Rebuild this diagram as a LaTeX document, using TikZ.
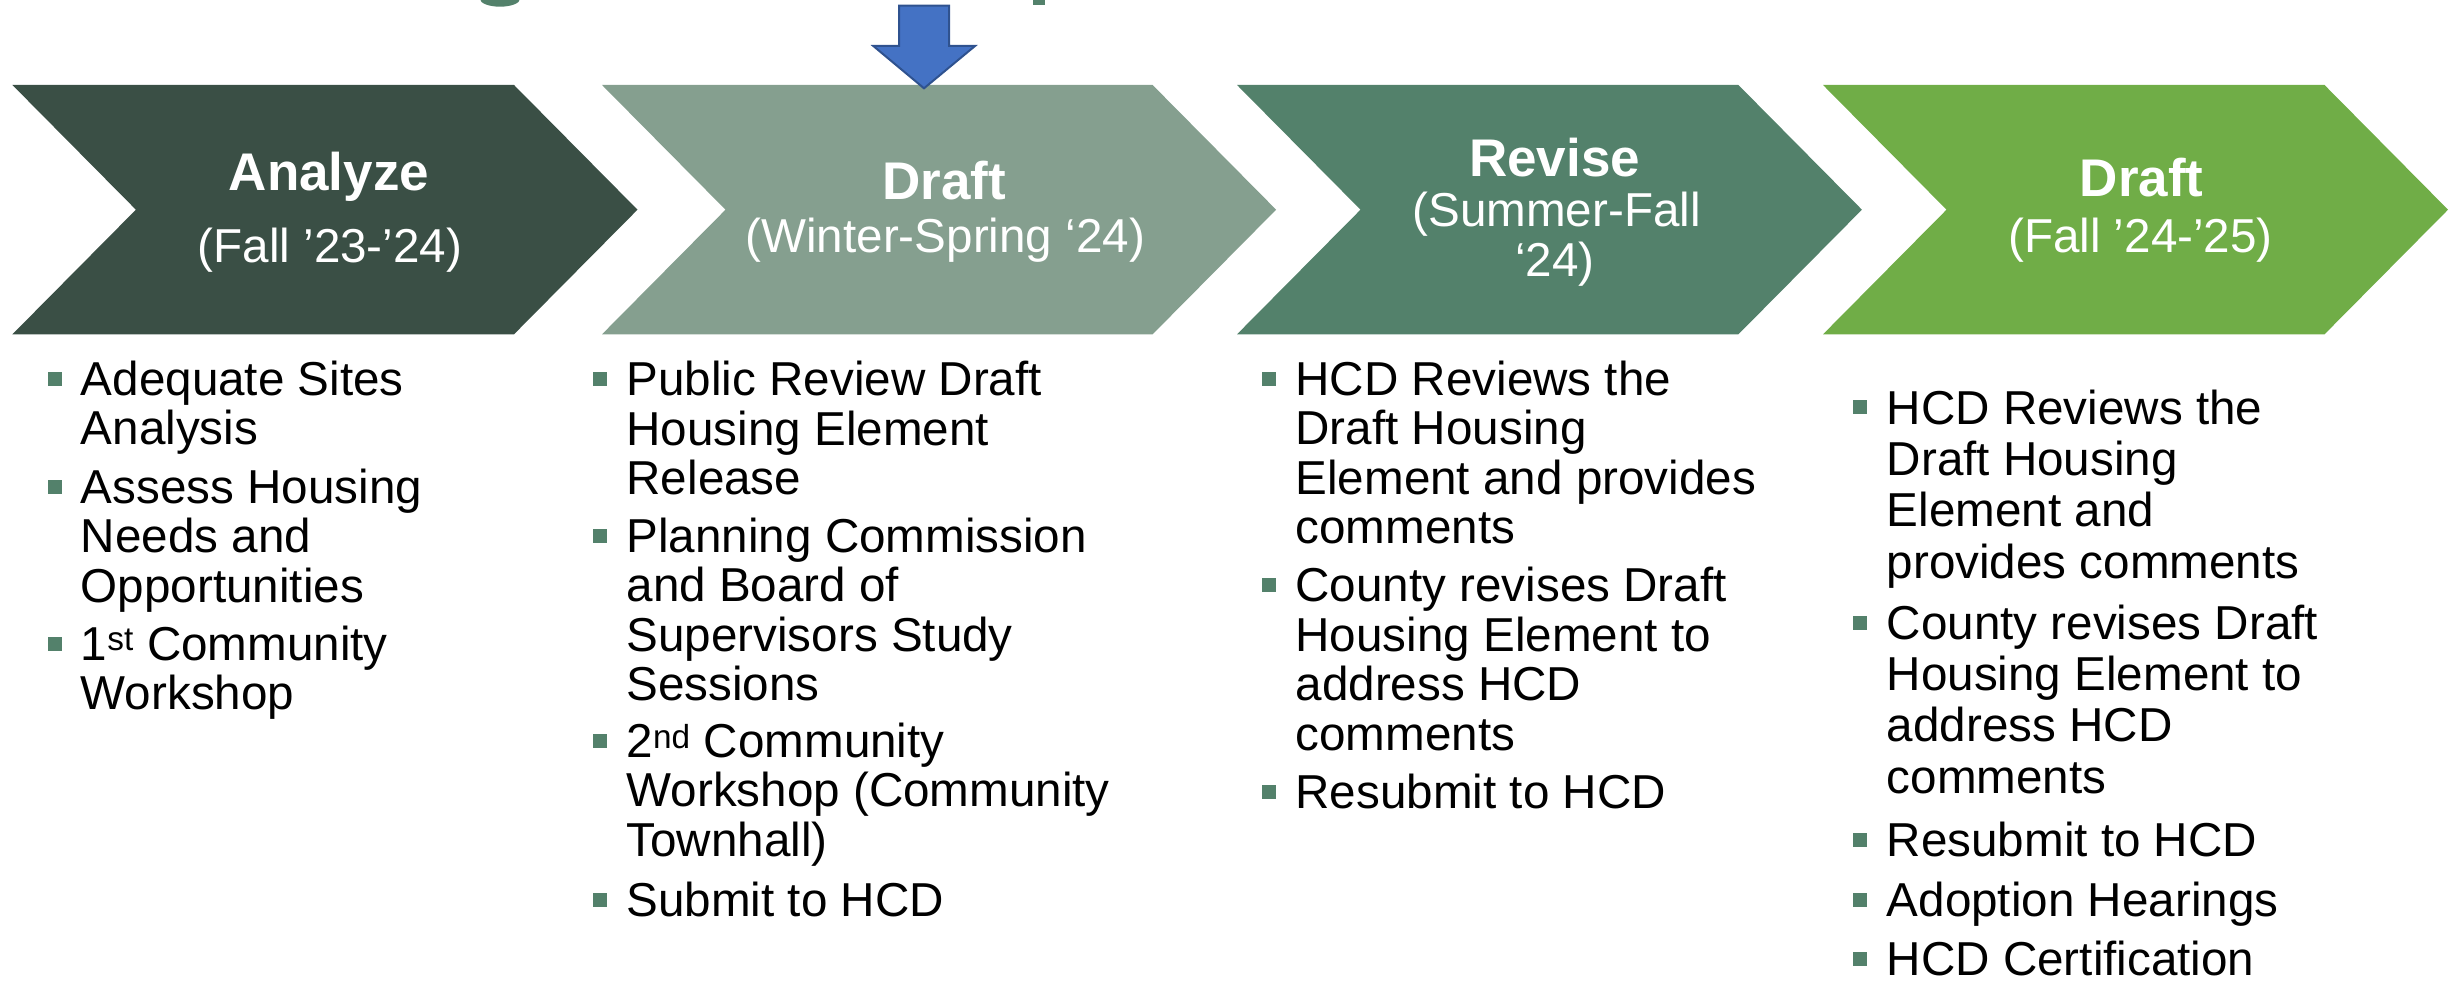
\documentclass[tikz,border=0pt]{standalone}
\usepackage{fontspec}
\setmainfont{Liberation Sans}

\definecolor{phaseA}{RGB}{58,79,69}
\definecolor{phaseB}{RGB}{133,159,143}
\definecolor{phaseC}{RGB}{83,129,107}
\definecolor{phaseD}{RGB}{112,173,71}
\definecolor{markerblue}{RGB}{68,114,196}
\definecolor{markeredge}{RGB}{47,82,143}
\definecolor{bulletgreen}{RGB}{83,129,107}

% lines stacked with a fixed baseline distance; the box baseline is the first line
\newcommand\stack[1]{\vtop{\let\\\cr\halign{##\hfil\cr#1\crcr}}}

\tikzset{
  phasetitle/.style={anchor=base, inner sep=0pt, text=white,
    font=\fontsize{53}{60}\selectfont\bfseries},
  phasesub/.style={anchor=base, inner sep=0pt, text=white,
    font=\fontsize{47.6}{50}\selectfont},
  itemtext/.style={anchor=base west, inner sep=0pt,
    font=\fontsize{47.6}{49.5}\selectfont},
  itemwide/.style={anchor=base west, inner sep=0pt,
    font=\fontsize{47.6}{51.3}\selectfont},
  bulletsq/.style={fill=bulletgreen, minimum size=14pt, inner sep=0pt,
    outer sep=0pt, draw=none},
}

\begin{document}
\begin{tikzpicture}[x=1pt,y=-1pt]
\useasboundingbox (0,0) rectangle (2451,981);

% tails of the heading letters above the chevrons
\fill[phaseC] (480,-1) arc[start angle=180,end angle=0,x radius=20,y radius=7.7] -- cycle;
\fill[phaseC] (1033,-1) rectangle (1045,5.5);

% phase chevrons
\fill[phaseA] (12.4,85) -- (514,85) -- (637.5,209.7) -- (514,334.3) -- (12.4,334.3) -- (135.9,209.7) -- cycle;
\fill[phaseB] (602,85) -- (1152.6,85) -- (1276.1,209.7) -- (1152.6,334.3) -- (602,334.3) -- (725.5,209.7) -- cycle;
\fill[phaseC] (1237,85) -- (1738.4,85) -- (1861.9,209.7) -- (1738.4,334.3) -- (1237,334.3) -- (1360.5,209.7) -- cycle;
\fill[phaseD] (1823,85) -- (2324.5,85) -- (2448,209.7) -- (2324.5,334.3) -- (1823,334.3) -- (1946.5,209.7) -- cycle;

% current-phase marker
\filldraw[fill=markerblue, draw=markeredge, line width=2pt, line join=miter]
  (899,5.7) -- (949,5.7) -- (949,46) -- (975,46) -- (924,88.3) -- (873.3,46) -- (899,46) -- cycle;

% chevron labels
\node[phasetitle] (t1) at (329,191) {Analyze};
\node[phasesub]   (s1) at (330,263) {(Fall ’23-’24)};
\node[phasetitle] (t2) at (944.4,200) {Draft};
\node[phasesub]   (s2) at (945.3,252.3) {(Winter-Spring ‘24)};
\node[phasetitle] (t3) at (1554.6,176.7) {Revise};
\node[phasesub]   (s3) at (1556.6,226.7) {(Summer-Fall};
\node[phasesub]   (s3b) at (1554.7,276.7) {‘24)};
\node[phasetitle] (t4) at (2141.8,196.7) {Draft};
\node[phasesub]   (s4) at (2140.5,252.3) {(Fall ’24-’25)};

% column 1
\node[bulletsq] (b1a) at (55.3,378.5) {};
\node[itemtext] (c1a) at (80.7,395) {\stack{Adequate Sites\\Analysis}};
\node[bulletsq] (b1b) at (55.3,486.8) {};
\node[itemtext] (c1b) at (80.7,503.3) {\stack{Assess Housing\\Needs and\\Opportunities}};
\node[bulletsq] (b1c) at (55.3,643.5) {};
\node[itemtext] (c1c) at (80.7,660) {\stack{1\textsuperscript{st} Community\\Workshop}};

% column 2
\node[bulletsq] (b2a) at (599.6,379) {};
\node[itemtext] (c2a) at (626.4,395.5) {\stack{Public Review Draft\\Housing Element\\Release}};
\node[bulletsq] (b2b) at (599.6,535.9) {};
\node[itemtext] (c2b) at (626.4,552.4) {\stack{Planning Commission\\and Board of\\Supervisors Study\\Sessions}};
\node[bulletsq] (b2c) at (599.6,740.6) {};
\node[itemtext] (c2c) at (626.4,757.1) {\stack{2\textsuperscript{nd} Community\\Workshop (Community\\Townhall)}};
\node[bulletsq] (b2d) at (599.6,899.5) {};
\node[itemtext] (c2d) at (626.4,916) {\stack{Submit to HCD}};

% column 3
\node[bulletsq] (b3a) at (1268.5,378.5) {};
\node[itemtext] (c3a) at (1295.4,395) {\stack{HCD Reviews the\\Draft Housing\\Element and provides\\comments}};
\node[bulletsq] (b3b) at (1268.5,585.2) {};
\node[itemtext] (c3b) at (1295.4,601.7) {\stack{County revises Draft\\Housing Element to\\address HCD\\comments}};
\node[bulletsq] (b3c) at (1268.5,791.8) {};
\node[itemtext] (c3c) at (1295.4,808.3) {\stack{Resubmit to HCD}};

% column 4
\node[bulletsq] (b4a) at (1860.3,407.4) {};
\node[itemwide] (c4a) at (1886.6,424.2) {\stack{HCD Reviews the\\Draft Housing\\Element and\\provides comments}};
\node[bulletsq] (b4b) at (1860.3,622.5) {};
\node[itemwide] (c4b) at (1886.6,639.2) {\stack{County revises Draft\\Housing Element to\\address HCD\\comments}};
\node[bulletsq] (b4c) at (1860.3,839.5) {};
\node[itemwide] (c4c) at (1886.6,856.2) {\stack{Resubmit to HCD}};
\node[bulletsq] (b4d) at (1860.3,899.7) {};
\node[itemwide] (c4d) at (1886.6,916.4) {\stack{Adoption Hearings}};
\node[bulletsq] (b4e) at (1860.3,959.1) {};
\node[itemwide] (c4e) at (1886.6,975.8) {\stack{HCD Certification}};
\end{tikzpicture}
\end{document}
